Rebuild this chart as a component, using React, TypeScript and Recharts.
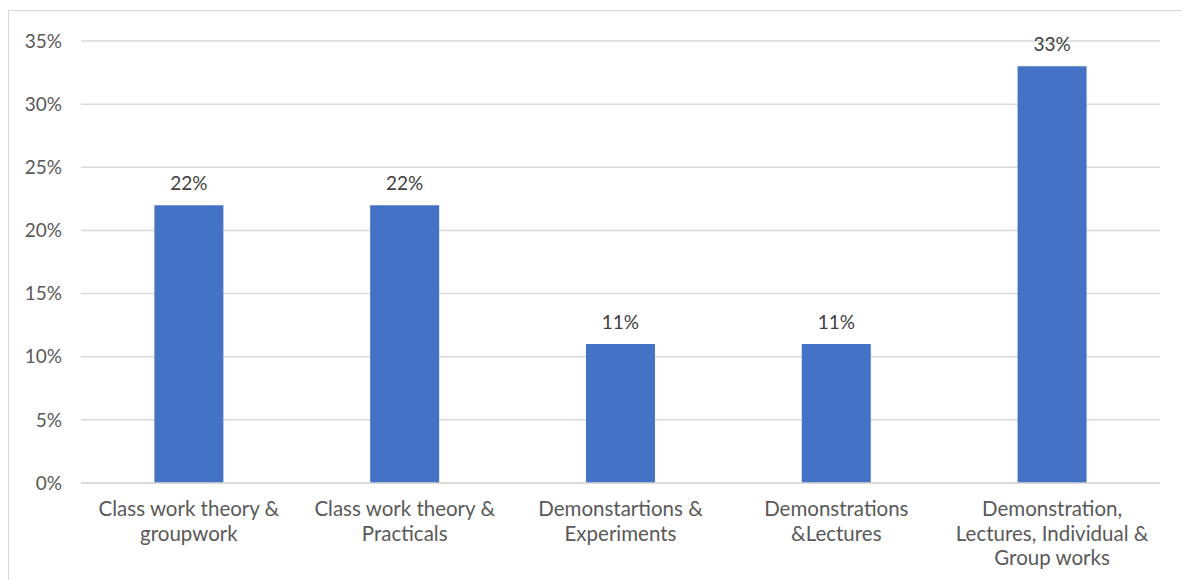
import { BarChart, Bar, XAxis, YAxis, CartesianGrid, LabelList } from 'recharts';

// teaching methods and share of respondents (%)
const methods = [
  'Class work theory &\ngroupwork',
  'Class work theory &\nPracticals',
  'Demonstartions &\nExperiments',
  'Demonstrations\n&Lectures',
  'Demonstration,\nLectures, Individual &\nGroup works',
];
const shares = [22, 22, 11, 11, 33];
const yTicks = [0, 5, 10, 15, 20, 25, 30, 35];

const data = methods.map((name, i) => ({ name, share: shares[i] }));

const FONT = 'Lato, "DejaVu Sans", sans-serif';
const TEXT = '#595959';
const GRID = '#d9d9d9';
const BAR = '#4472C4';

function MethodTick(props: any) {
  const { x, y, payload } = props;
  const lines = String(payload.value).split('\n');
  return (
    <text x={x} y={y} textAnchor="middle" fill={TEXT} fontFamily={FONT} fontSize={20.5}>
      {lines.map((line, i) => (
        <tspan key={i} x={x} dy={i === 0 ? 25 : 24.5}>
          {line}
        </tspan>
      ))}
    </text>
  );
}

export default function App() {
  return (
    <div style={{ position: 'absolute', left: 0, top: 0, width: 1182, height: 580, overflow: 'hidden', background: '#fff' }}>
      <div
        style={{
          position: 'absolute',
          left: 8,
          top: 10,
          width: 1200,
          height: 620,
          border: `1px solid ${GRID}`,
        }}
      />
      <div style={{ position: 'absolute', left: 0, top: 0 }}>
        <BarChart
          width={1182}
          height={580}
          data={data}
          margin={{ top: 41, right: 22, bottom: 0, left: 0 }}
          barCategoryGap="34%"
        >
          <CartesianGrid vertical={false} stroke={GRID} strokeWidth={1.5} />
          <XAxis
            dataKey="name"
            height={97}
            interval={0}
            axisLine={{ stroke: GRID, strokeWidth: 1.5 }}
            tickLine={false}
            tick={<MethodTick />}
          />
          <YAxis
            width={81}
            domain={[0, 35]}
            ticks={yTicks}
            axisLine={false}
            tickLine={false}
            tickSize={0}
            tickMargin={19}
            tickFormatter={(v: number) => `${v}%`}
            tick={{ fill: TEXT, fontFamily: FONT, fontSize: 19 }}
          />
          <Bar dataKey="share" fill={BAR} isAnimationActive={false}>
            <LabelList
              dataKey="share"
              position="top"
              offset={15}
              formatter={(v: any) => `${v}%`}
              style={{ fill: '#404040', fontFamily: FONT, fontSize: 19 }}
            />
          </Bar>
        </BarChart>
      </div>
    </div>
  );
}
